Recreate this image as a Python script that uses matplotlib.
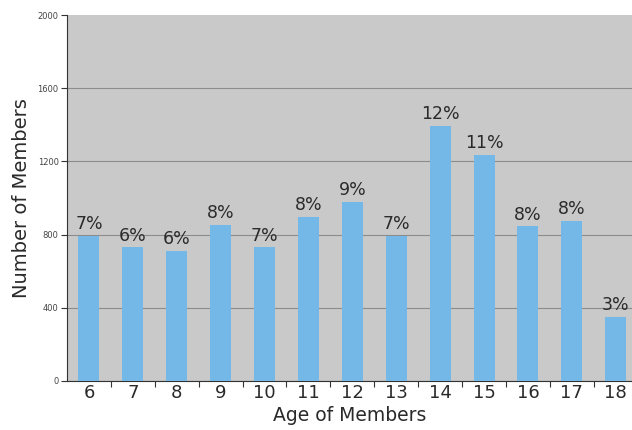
import matplotlib.pyplot as plt
import numpy as np

# Members by age
ages = [6, 7, 8, 9, 10, 11, 12, 13, 14, 15, 16, 17, 18]
members = [795, 730, 710, 855, 730, 895, 980, 795, 1395, 1235, 845, 875, 350]
shares = ["7%", "6%", "6%", "8%", "7%", "8%", "9%", "7%", "12%", "11%", "8%", "8%", "3%"]
y_ticks = [0, 400, 800, 1200, 1600, 2000]

plt.rcParams['font.family'] = ['DejaVu Sans']

fig = plt.figure(figsize=(6.32, 4.30), dpi=100)
ax = fig.add_axes([0.106, 0.114, 0.894, 0.851])
ax.set_facecolor("#c9c9c9")

x = np.array(ages, dtype=float)
bars = ax.bar(x, members, width=0.48, color="#74b8e8", zorder=3)

# Percent labels above bars
for bar, txt in zip(bars, shares):
    ax.text(bar.get_x() + bar.get_width() / 2, bar.get_height() + 15, txt,
            ha="center", va="bottom", fontsize=12.5, color="#2a2a2a", zorder=4)

ax.set_xlim(x[0] - 0.5, x[-1] + 0.37)
ax.set_ylim(0, 2000)

# Ticks between bars, labels at bar centres
ax.set_xticks(x[:-1] + 0.5)
ax.set_xticklabels([])
ax.tick_params(axis="x", which="major", length=4, direction="out", color="#333333")
ax.set_xticks(x, minor=True)
ax.set_xticklabels([str(a) for a in ages], minor=True, fontsize=13, color="#2a2a2a")
ax.tick_params(axis="x", which="minor", length=0, pad=2)

ax.set_yticks(y_ticks)
ax.set_yticklabels([str(v) for v in y_ticks], fontsize=6, color="#444444")
ax.tick_params(axis="y", length=4, direction="out", color="#333333", pad=2)

ax.yaxis.grid(True, color="#8c8c8c", linewidth=0.8, zorder=1)
ax.yaxis.get_gridlines()[-1].set_visible(False)

for side in ["top", "right"]:
    ax.spines[side].set_visible(False)
ax.spines["left"].set_color("#333333")
ax.spines["bottom"].set_color("#333333")

ax.set_xlabel("Age of Members", fontsize=13.5, color="#2a2a2a", labelpad=3)
ax.set_ylabel("Number of Members", fontsize=14, color="#2a2a2a", labelpad=5)

fig.savefig("out.png", dpi=100)
